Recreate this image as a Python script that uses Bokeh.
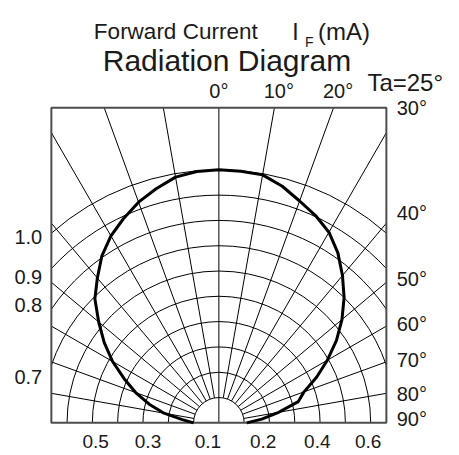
import numpy as np
from bokeh.plotting import figure
from bokeh.models import Range1d, ColumnDataSource, LabelSet, Label
from bokeh.core.properties import value
from bokeh.embed import file_html
from bokeh.resources import INLINE

# ---- data ----
angles_deg = [-90, -85, -80, -75, -70, -65, -60, -55, -50, -45, -40, -35, -30, -25, -20, -15, -10, -5,
              0, 5, 10, 15, 20, 25, 30, 35, 40, 45, 50, 55, 60, 65, 70, 75, 80, 85, 90]
intensity = [0.10, 0.145, 0.22, 0.285, 0.35, 0.413, 0.485, 0.553, 0.62, 0.693, 0.747, 0.806, 0.853, 0.891, 0.928, 0.958, 0.986, 0.997,
             1.0, 0.998, 0.995, 0.968, 0.933, 0.904, 0.87, 0.82, 0.76, 0.70, 0.635, 0.567, 0.495, 0.426, 0.358, 0.325, 0.24, 0.17, 0.11]

arc_levels = [0.1, 0.2, 0.3, 0.4, 0.5, 0.6, 0.7, 0.8, 0.9, 1.0]
spoke_angles = [-80, -70, -60, -50, -40, -30, -20, -10, 0, 10, 20, 30, 40, 50, 60, 70, 80]

left_labels = ["1.0", "0.9", "0.8", "0.7"]
left_label_y = [0.736, 0.578, 0.464, 0.183]
right_labels = ["30°", "40°", "50°", "60°", "70°", "80°", "90°"]
right_label_y = [1.243, 0.831, 0.567, 0.389, 0.250, 0.116, 0.017]
top_labels = ["0°", "10°", "20°"]
top_label_x = [0.0, 0.237, 0.471]
bottom_labels = ["0.5", "0.3", "0.1", "0.2", "0.4", "0.6"]
bottom_label_x = [-0.487, -0.280, -0.043, 0.175, 0.389, 0.590]

# extent of the diagram box (data units, relative intensity)
BOX_HALF = 0.662
BOX_TOP = 1.245

FONT = "Liberation Sans"
INK = "#1a1a1a"

p = figure(width=459, height=455, output_backend="svg", toolbar_location=None,
           x_range=Range1d(-0.863, 0.951), y_range=Range1d(-0.129, 1.669),
           x_axis_type=None, y_axis_type=None,
           min_border_left=0, min_border_right=0, min_border_top=0, min_border_bottom=0)
p.grid.visible = False
p.outline_line_color = None
p.background_fill_color = "white"
p.border_fill_color = "white"

# concentric arcs, limited to the box
levels = np.array(arc_levels)
cut = np.arccos(np.clip(BOX_HALF / levels, -1, 1))
p.arc(x=0, y=0, radius=levels, start_angle=cut, end_angle=np.pi - cut,
      line_color="black", line_width=1)

# radial spokes from the inner arc to the box edge
sa = np.radians(spoke_angles)
inner = np.array([0.0 if a == 0 else arc_levels[0] for a in spoke_angles])
with np.errstate(divide="ignore"):
    t_side = np.where(np.abs(np.sin(sa)) > 1e-9, BOX_HALF / np.abs(np.sin(sa)), np.inf)
t_top = BOX_TOP / np.cos(sa)
outer = np.minimum(t_side, t_top)
p.segment(x0=inner * np.sin(sa), y0=inner * np.cos(sa),
          x1=outer * np.sin(sa), y1=outer * np.cos(sa),
          line_color="black", line_width=1)

# box
p.quad(left=-BOX_HALF, right=BOX_HALF, bottom=0, top=BOX_TOP,
       fill_color=None, line_color="#4d4d4d", line_width=2)

# radiation curve
th = np.radians(angles_deg)
r = np.array(intensity)
p.line(x=r * np.sin(th), y=r * np.cos(th), line_color="black", line_width=3, line_join="round")

# tick-like labels
lab_style = dict(text_font=value(FONT), text_font_size="20px", text_color=INK)

src_left = ColumnDataSource(dict(x=[-0.698] * len(left_labels), y=left_label_y, t=left_labels))
p.add_layout(LabelSet(x="x", y="y", text="t", source=src_left, text_align="right",
                      text_baseline="middle", **lab_style))

src_right = ColumnDataSource(dict(x=[0.703] * len(right_labels), y=right_label_y, t=right_labels))
p.add_layout(LabelSet(x="x", y="y", text="t", source=src_right, text_align="left",
                      text_baseline="middle", **lab_style))

src_top = ColumnDataSource(dict(x=top_label_x, y=[1.313] * len(top_labels), t=top_labels))
p.add_layout(LabelSet(x="x", y="y", text="t", source=src_top, text_align="center",
                      text_baseline="middle", **lab_style))

src_bot = ColumnDataSource(dict(x=bottom_label_x, y=[-0.072] * len(bottom_labels), t=bottom_labels))
p.add_layout(LabelSet(x="x", y="y", text="t", source=src_bot, text_align="center",
                      text_baseline="middle", text_font=value(FONT), text_font_size="19px",
                      text_color=INK))

# titles
def title_label(x, y, text, size, align="left"):
    p.add_layout(Label(x=x, y=y, text=text, text_font=FONT, text_font_size=size,
                       text_baseline="alphabetic", text_align=align, text_color=INK))

title_label(-0.494, 1.545, "Forward Current", "22.5px")
title_label(0.290, 1.545, "I", "23px")
title_label(0.340, 1.504, "F", "14px")
title_label(0.392, 1.545, "(mA)", "24px")
title_label(0.032, 1.432, "Radiation Diagram", "30px", align="center")
title_label(0.587, 1.346, "Ta=25°", "24px")

open("out.html", "w").write(file_html(p, INLINE))
